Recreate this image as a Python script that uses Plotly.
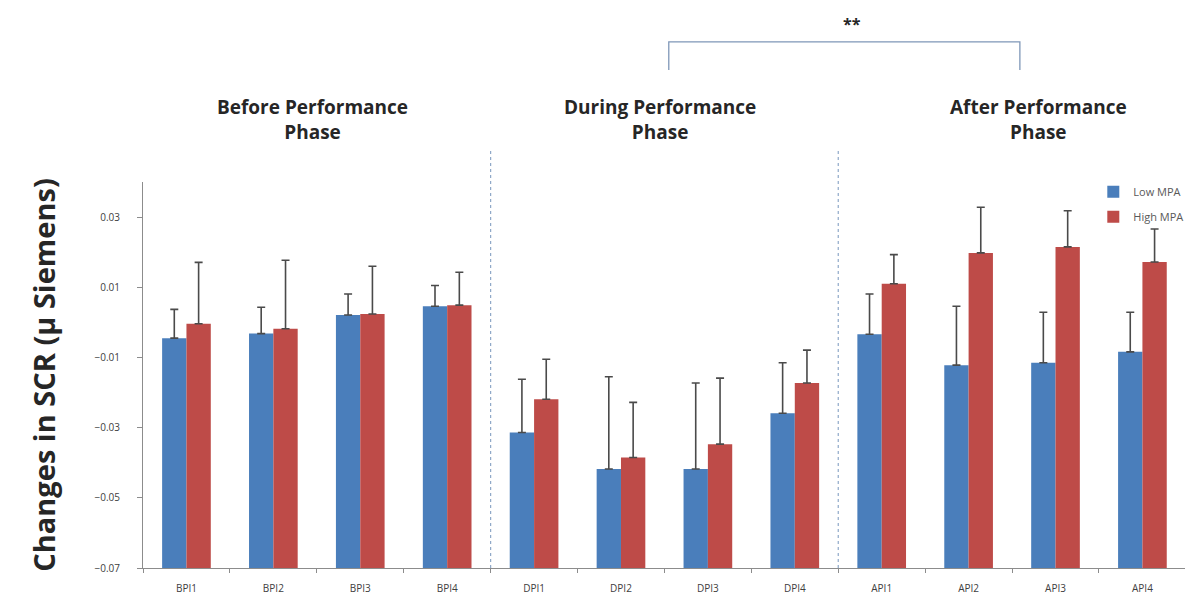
import plotly.graph_objects as go

# Skin conductance response changes per performance interval
categories = ["BPI1", "BPI2", "BPI3", "BPI4",
              "DPI1", "DPI2", "DPI3", "DPI4",
              "API1", "API2", "API3", "API4"]

low_mpa = [-0.0045, -0.0032, 0.0021, 0.0046,
           -0.0314, -0.0418, -0.0418, -0.0259,
           -0.0034, -0.0122, -0.0115, -0.0084]
low_err = [0.0082, 0.0075, 0.0060, 0.0059,
           0.0152, 0.0263, 0.0245, 0.0144,
           0.0115, 0.0168, 0.0144, 0.0113]

high_mpa = [-0.0004, -0.0018, 0.0024, 0.0049,
            -0.0219, -0.0385, -0.0347, -0.0173,
            0.0110, 0.0198, 0.0215, 0.0172]
high_err = [0.0175, 0.0195, 0.0136, 0.0094,
            0.0114, 0.0157, 0.0188, 0.0094,
            0.0083, 0.0130, 0.0103, 0.0094]

phase_titles = ["Before Performance<br>Phase",
                "During Performance<br>Phase",
                "After Performance<br>Phase"]
phase_centers = [1.45, 5.45, 9.8]
phase_dividers = [3.5, 7.5]

y_min, y_max = -0.07, 0.04

BLUE = "#4a7ebb"
RED = "#be4b48"
ERR = "#4a4a4a"
AXIS = "#8c8c8c"


def bar_trace(name, values, errors, color):
    # bars rise from the bottom of the value axis
    return go.Bar(
        name=name,
        legendgroup=name,
        x=categories,
        y=[v - y_min for v in values],
        base=y_min,
        marker=dict(color=color, line=dict(width=0)),
        error_y=dict(type="data", array=errors, arrayminus=[0] * len(errors),
                     symmetric=False, color=ERR, thickness=1.6, width=4),
    )


fig = go.Figure([
    bar_trace("Low MPA", low_mpa, low_err, BLUE),
    bar_trace("High MPA", high_mpa, high_err, RED),
])

fig.update_layout(
    width=1185, height=601,
    margin=dict(l=143, r=0, t=182, b=33, autoexpand=False),
    paper_bgcolor="white", plot_bgcolor="white",
    barmode="group", bargap=0.44, bargroupgap=0,
    font=dict(family="Open Sans, sans-serif", color="#404040"),
    legend=dict(x=0.912, y=1.012, xanchor="left", yanchor="top",
                font=dict(size=11, color="#595959"),
                bgcolor="rgba(0,0,0,0)", itemwidth=30,
                tracegroupgap=6),
    showlegend=True,
)

fig.update_xaxes(
    type="category", range=[-0.5, 11.49],
    showline=True, linecolor=AXIS, linewidth=1,
    ticks="outside", tickson="boundaries", ticklen=4, tickcolor=AXIS,
    ticklabelstandoff=11,
    tickfont=dict(size=10, color="#404040"),
    showgrid=False, zeroline=False,
)

fig.update_yaxes(
    range=[y_min, y_max], tick0=y_min, dtick=0.02, tickformat=".2f",
    showline=True, linecolor=AXIS, linewidth=1,
    ticks="outside", ticklen=5, tickcolor=AXIS,
    ticklabelstandoff=15,
    tickfont=dict(size=10, color="#404040"),
    showgrid=False, zeroline=False,
    title=dict(text="<b>Changes in SCR (μ Siemens)</b>",
               font=dict(size=29, color="#262626"), standoff=30),
)

# dotted separators between the three phases
for xd in phase_dividers:
    fig.add_shape(type="line", xref="x", yref="paper",
                  x0=xd, x1=xd, y0=0, y1=1.085,
                  line=dict(color="#8fa8c8", width=1.2, dash="dot"))

# phase headings
for text, xc in zip(phase_titles, phase_centers):
    fig.add_annotation(x=xc, xref="x", y=1.09, yref="paper",
                       text=f"<b>{text}</b>", showarrow=False,
                       font=dict(size=19, color="#262626"),
                       xanchor="center", yanchor="bottom")

# significance bracket between the during and after phases
bx0, bx1 = 5.55, 9.59
fig.add_shape(type="path", xref="x", yref="paper",
              path=f"M {bx0},1.29 L {bx0},1.363 L {bx1},1.363 L {bx1},1.29",
              line=dict(color="#7f97b8", width=1.3))
fig.add_annotation(x=(bx0 + bx1) / 2, xref="x", y=1.41, yref="paper",
                   xshift=8,
                   text="<b>**</b>", showarrow=False,
                   font=dict(size=16, color="#262626"),
                   xanchor="center", yanchor="middle")

fig.write_html("out.html")
